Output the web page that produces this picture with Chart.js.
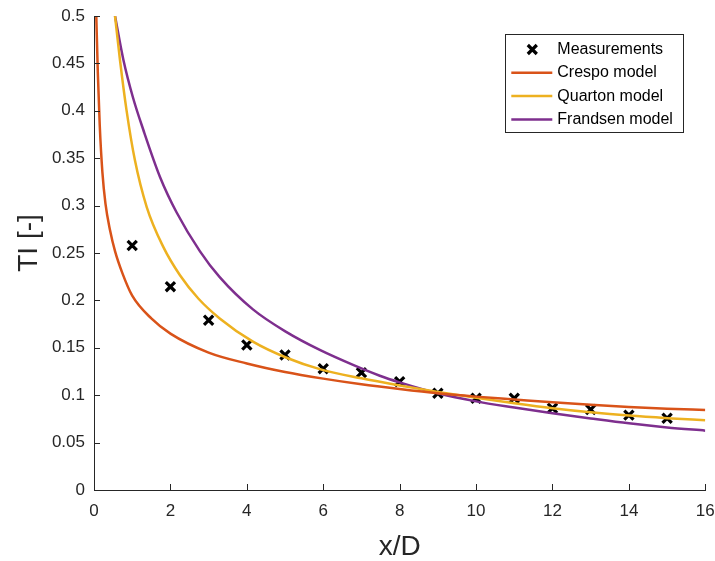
<!DOCTYPE html>
<html>
<head>
<meta charset="utf-8">
<script src="https://cdn.jsdelivr.net/npm/chart.js@4.4.1/dist/chart.umd.min.js"></script>
<style>
  html, body { margin: 0; padding: 0; background: #fff; }
</style>
</head>
<body>
<canvas id="chart" width="715" height="561"></canvas>
<script>
// measured turbulence intensity downstream of the rotor
const measX = [1, 2, 3, 4, 5, 6, 7, 8, 9, 10, 11, 12, 13, 14, 15];
const measY = [0.258, 0.2145, 0.179, 0.153, 0.1425, 0.128, 0.1238, 0.1143, 0.102, 0.0967, 0.0967, 0.0862, 0.085, 0.079, 0.0756];

// wake model curves
const crespoX = [0.06, 0.1, 0.15, 0.22, 0.3, 0.42, 0.55, 0.75, 1, 1.5, 2, 3, 4, 5, 6, 7, 8, 9, 10, 11, 12, 13, 14, 15, 16];
const crespoY = [0.5, 0.44, 0.385, 0.335, 0.302, 0.274, 0.252, 0.228, 0.205, 0.181, 0.165, 0.145, 0.1335, 0.1245, 0.1175, 0.1115, 0.1065, 0.102, 0.0985, 0.0955, 0.0925, 0.0898, 0.0875, 0.0858, 0.0844];

const quartonX = [0.55, 0.68, 0.85, 1.07, 1.38, 1.81, 2.25, 2.73, 3.29, 4.16, 5.04, 5.91, 7, 8, 9, 10, 11, 12, 13, 14, 15, 16];
const quartonY = [0.5, 0.4536, 0.401, 0.348, 0.2985, 0.2567, 0.2265, 0.202, 0.181, 0.1565, 0.1395, 0.1275, 0.1178, 0.1103, 0.1035, 0.0972, 0.0915, 0.0863, 0.082, 0.0785, 0.0758, 0.0736];

const frandsenX = [0.55, 0.77, 1.02, 1.29, 1.73, 2.16, 2.77, 3.29, 4.16, 5.04, 5.91, 6.78, 7.48, 8, 9, 10, 11, 12, 13, 14, 15, 16];
const frandsenY = [0.5, 0.4536, 0.414, 0.38, 0.33, 0.293, 0.252, 0.2245, 0.1905, 0.1665, 0.1477, 0.1319, 0.1205, 0.1135, 0.102, 0.0935, 0.087, 0.081, 0.0755, 0.0703, 0.066, 0.0626];

const axisColor = '#262626';
const fontFamily = '"Liberation Sans", Arial, Helvetica, sans-serif';

const pts = (xs, ys) => xs.map((x, i) => ({ x: x, y: ys[i] }));

const modelLine = (label, xs, ys, color) => ({
    label: label,
    data: pts(xs, ys),
    showLine: true,
    borderColor: color,
    backgroundColor: color,
    borderWidth: 2.5,
    pointRadius: 0,
    cubicInterpolationMode: 'monotone',
    order: 0
});

// ticks pointing into the plot area, matlab style, plus the rotated y label
const innerTicks = {
    id: 'innerTicks',
    afterDatasetsDraw(chart) {
        const { ctx, chartArea, scales: { x, y } } = chart;
        ctx.save();
        ctx.strokeStyle = axisColor;
        ctx.lineWidth = 1;
        ctx.beginPath();
        x.ticks.forEach(t => {
            const px = Math.round(x.getPixelForValue(t.value)) + 0.5;
            ctx.moveTo(px, chartArea.bottom);
            ctx.lineTo(px, chartArea.bottom - 6);
        });
        y.ticks.forEach(t => {
            const py = Math.round(y.getPixelForValue(t.value)) + 0.5;
            ctx.moveTo(chartArea.left, py);
            ctx.lineTo(chartArea.left + 6, py);
        });
        ctx.stroke();

        ctx.translate(29, (chartArea.top + chartArea.bottom) / 2 - 10);
        ctx.rotate(-Math.PI / 2);
        ctx.fillStyle = axisColor;
        ctx.font = '28px ' + fontFamily;
        ctx.textAlign = 'center';
        ctx.textBaseline = 'middle';
        ctx.fillText('TI [-]', 0, 0);
        ctx.restore();
    }
};

// boxed legend in the upper right corner
const boxLegend = {
    id: 'boxLegend',
    afterDraw(chart) {
        const { ctx, chartArea } = chart;
        const w = 178, h = 98;
        const left = chartArea.right - 22 - w;
        const top = chartArea.top + 18;
        ctx.save();
        ctx.fillStyle = '#fff';
        ctx.fillRect(left, top, w, h);
        ctx.strokeStyle = axisColor;
        ctx.lineWidth = 1;
        ctx.strokeRect(Math.round(left) + 0.5, Math.round(top) + 0.5, w, h);
        ctx.font = '16px ' + fontFamily;
        ctx.textBaseline = 'middle';
        chart.data.datasets.forEach((ds, i) => {
            const cy = top + 15.5 + i * 23.3;
            if (ds.showLine) {
                ctx.strokeStyle = ds.borderColor;
                ctx.lineWidth = 2.5;
                ctx.beginPath();
                ctx.moveTo(left + 6, cy);
                ctx.lineTo(left + 47, cy);
                ctx.stroke();
            } else {
                ctx.strokeStyle = '#000';
                ctx.lineWidth = 3.2;
                const r = 4.5;
                ctx.beginPath();
                ctx.moveTo(left + 27 - r, cy - r);
                ctx.lineTo(left + 27 + r, cy + r);
                ctx.moveTo(left + 27 - r, cy + r);
                ctx.lineTo(left + 27 + r, cy - r);
                ctx.stroke();
            }
            ctx.fillStyle = '#000';
            ctx.fillText(ds.label, left + 52, cy);
        });
        ctx.restore();
    }
};

new Chart(document.getElementById('chart').getContext('2d'), {
    type: 'scatter',
    data: {
        datasets: [
            {
                label: 'Measurements',
                data: pts(measX, measY),
                showLine: false,
                pointStyle: 'crossRot',
                pointRadius: 6.5,
                pointBorderWidth: 3.2,
                borderColor: '#000',
                backgroundColor: '#000',
                order: 1
            },
            modelLine('Crespo model', crespoX, crespoY, '#D95319'),
            modelLine('Quarton model', quartonX, quartonY, '#EDB120'),
            modelLine('Frandsen model', frandsenX, frandsenY, '#7E2F8E')
        ]
    },
    options: {
        responsive: false,
        animation: false,
        layout: { padding: { left: 0, right: 9, top: 16, bottom: 0 } },
        plugins: {
            legend: { display: false },
            tooltip: { enabled: false }
        },
        scales: {
            x: {
                type: 'linear',
                min: 0,
                max: 16,
                grid: { display: false, drawTicks: false },
                border: { display: true, color: axisColor, width: 1 },
                ticks: {
                    stepSize: 2,
                    color: axisColor,
                    padding: 11,
                    maxRotation: 0,
                    font: { family: fontFamily, size: 17 }
                },
                title: {
                    display: true,
                    text: 'x/D',
                    color: axisColor,
                    padding: { top: 0, bottom: 0 },
                    font: { family: fontFamily, size: 28, lineHeight: 1 }
                },
                afterFit: s => {
                    s.height = 71;
                    s.paddingLeft = 0;
                    s.paddingRight = 0;
                }
            },
            y: {
                type: 'linear',
                min: 0,
                max: 0.5,
                grid: { display: false, drawTicks: false },
                border: { display: true, color: axisColor, width: 1 },
                ticks: {
                    stepSize: 0.05,
                    color: axisColor,
                    padding: 9,
                    font: { family: fontFamily, size: 17 },
                    callback: v => String(Number(v.toFixed(2)))
                },
                afterFit: s => {
                    s.width = 94;
                    s.paddingTop = 0;
                    s.paddingBottom = 0;
                }
            }
        }
    },
    plugins: [innerTicks, boxLegend]
});
</script>
</body>
</html>
